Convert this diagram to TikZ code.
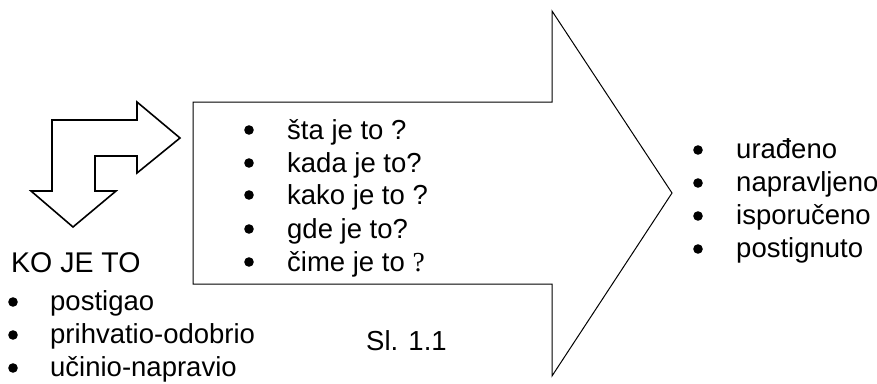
\documentclass[tikz,border=0pt]{standalone}
\usepackage{fontspec}
\setmainfont{Liberation Sans}
\newfontfamily\serifq{Liberation Serif}
\begin{document}
\begin{tikzpicture}[x=1pt,y=-1pt,
  txt/.style={anchor=base west,inner sep=0pt,font=\fontsize{27.5}{30}\selectfont},
  dot/.style={fill=black},
  bigarrow/.style={draw=black,line width=1pt,line join=miter},
  bentarrow/.style={draw=black,line width=1.6pt,line join=miter}]
\useasboundingbox (0,0) rectangle (877,383);
% big arrow
\draw[bigarrow] (193,102) -- (552,102) -- (552,11) -- (672,193) -- (552,376) -- (552,284) -- (193,284) -- cycle;
% bent arrow
\draw[bentarrow] (52,120) -- (137,120) -- (137,102) -- (180,138) -- (137,173) -- (137,156) -- (95,156) -- (95,191) -- (116,191) -- (73,227) -- (31,191) -- (52,191) -- cycle;
% middle list
\foreach \y/\n/\t in {139/m1/{šta je to ?},172/m2/{kada je to?},204/m3/{kako je to ?},238/m4/{gde je to?}}{
  \fill[dot] (249,\y-9) circle (4.8);
  \node[txt] (\n) at (287,\y) {\t};
}
\fill[dot] (249,262) circle (4.8);
\node[txt] (m5) at (287,271) {čime je to {\serifq ?}};
% right list
\foreach \y/\n/\t in {158/r1/{urađeno},191/r2/{napravljeno},224/r3/{isporučeno},257/r4/{postignuto}}{
  \fill[dot] (698,\y-8) circle (4.8);
  \node[txt] (\n) at (736,\y) {\t};
}
% left list
\node[txt,font=\fontsize{28.5}{30}\selectfont] (ko) at (11,272) {KO JE TO};
\foreach \y/\n/\t in {310/l1/{postigao},343/l2/{prihvatio-odobrio},376/l3/{učinio-napravio}}{
  \fill[dot] (13,\y-8) circle (4.8);
  \node[txt] (\n) at (50,\y) {\t};
}
\node[txt] (sl) at (366,350) {Sl. 1.1};
\end{tikzpicture}
\end{document}
